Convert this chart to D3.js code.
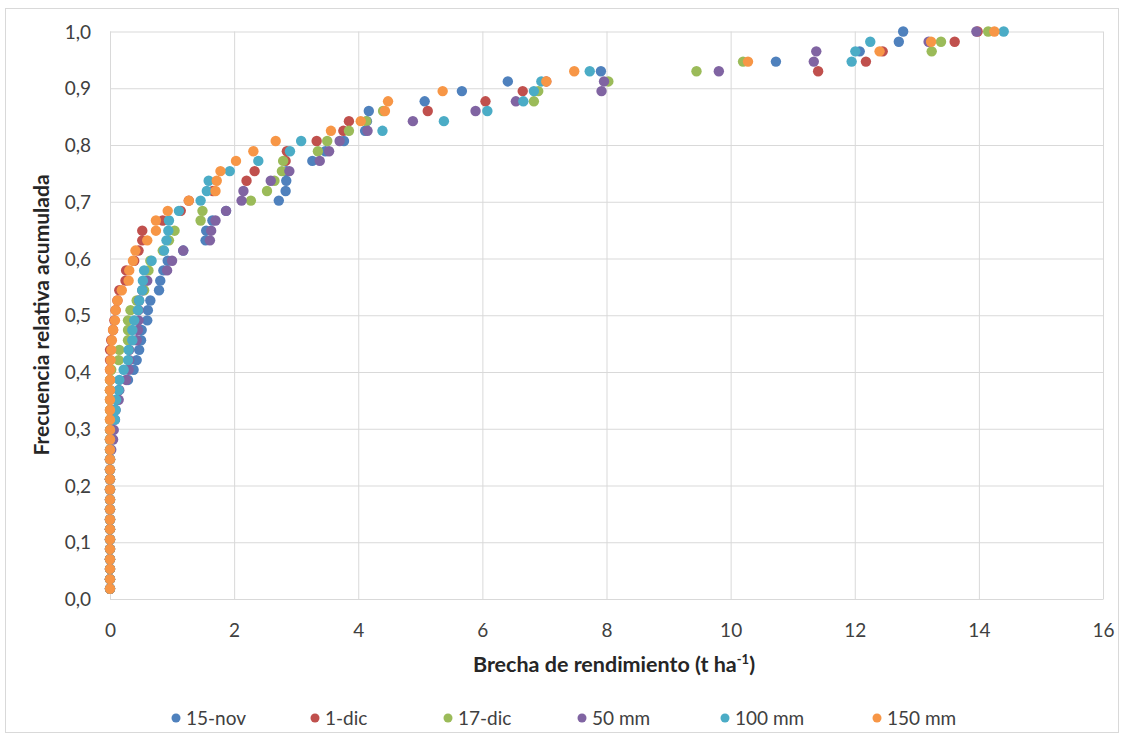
<!DOCTYPE html>
<html><head><meta charset="utf-8">
<script src="https://cdn.jsdelivr.net/npm/d3@7"></script>
<style>
html,body{margin:0;padding:0;background:#fff;}
svg{display:block;font-family:Lato,"Open Sans",sans-serif;}
</style></head>
<body>
<svg id="c" width="1125" height="738"></svg>
<script>
// cumulative relative frequency (rank / 57)
const yFreq = [0.018,0.035,0.053,0.070,0.088,0.105,0.123,0.140,0.158,0.175,0.193,0.211,0.228,0.246,0.263,0.281,0.298,0.316,0.333,0.351,0.368,0.386,0.404,0.421,0.439,0.456,0.474,0.491,0.509,0.526,0.544,0.561,0.579,0.596,0.614,0.632,0.649,0.667,0.684,0.702,0.719,0.737,0.754,0.772,0.789,0.807,0.825,0.842,0.860,0.877,0.895,0.912,0.930,0.947,0.965,0.982,1.000];

const seriesNames = ["15-nov","1-dic","17-dic","50 mm","100 mm","150 mm"];
const seriesColors = ["#4F81BD","#C0504D","#9BBB59","#8064A2","#4BACC6","#F79646"];

const gap15nov = [0,0,0,0,0,0,0,0,0,0,0,0,0,0,0,0,0.03,0.05,0.08,0.10,0.14,0.29,0.38,0.43,0.47,0.50,0.51,0.60,0.61,0.65,0.79,0.81,0.86,0.93,1.18,1.54,1.55,1.65,1.87,2.72,2.83,2.84,2.84,3.26,3.47,3.77,4.11,4.14,4.17,5.07,5.67,6.41,7.91,10.73,12.08,12.71,12.78];
const gap1dic = [0,0,0,0,0,0,0,0,0,0,0,0,0,0,0,0,0,0,0,0,0,0,0,0,0,0.02,0.05,0.07,0.09,0.12,0.15,0.25,0.26,0.39,0.46,0.52,0.52,0.85,1.14,1.27,1.66,2.20,2.33,2.83,2.85,3.33,3.76,3.85,5.12,6.05,6.65,7.03,11.41,12.18,12.45,13.61,13.98];
const gap17dic = [0,0,0,0,0,0,0,0,0,0,0,0,0,0,0,0,0,0,0,0,0,0,0.02,0.14,0.15,0.29,0.29,0.29,0.33,0.43,0.55,0.58,0.62,0.65,0.85,0.95,1.04,1.46,1.49,2.27,2.53,2.65,2.77,2.79,3.35,3.50,3.85,4.13,4.40,6.83,6.90,8.03,9.45,10.20,13.24,13.39,14.15];
const gap50mm = [0,0,0,0,0,0,0,0,0,0,0,0,0,0,0.02,0.05,0.06,0.08,0.09,0.14,0.15,0.26,0.30,0.31,0.31,0.43,0.45,0.46,0.46,0.47,0.52,0.60,0.92,1.00,1.18,1.61,1.63,1.70,1.87,2.12,2.15,2.59,2.89,3.38,3.53,3.70,4.15,4.88,5.89,6.54,7.92,7.96,9.81,11.34,11.38,13.19,13.96];
const gap100mm = [0,0,0,0,0,0,0,0,0,0,0,0,0,0,0,0,0,0.08,0.09,0.10,0.14,0.15,0.22,0.29,0.30,0.36,0.36,0.39,0.45,0.47,0.52,0.53,0.55,0.67,0.87,0.91,0.94,0.95,1.11,1.46,1.56,1.59,1.93,2.39,2.90,3.08,4.39,5.38,6.08,6.66,6.83,6.95,7.73,11.95,12.01,12.25,14.40];
const gap150mm = [0,0,0,0,0,0,0,0,0,0,0,0,0,0,0,0,0,0,0,0,0,0,0,0.01,0.02,0.03,0.05,0.08,0.09,0.12,0.19,0.30,0.31,0.37,0.41,0.60,0.74,0.74,0.93,1.27,1.70,1.72,1.78,2.03,2.31,2.67,3.56,4.04,4.43,4.48,5.36,7.03,7.48,10.28,12.40,13.23,14.25];

const seriesValues = [gap15nov,gap1dic,gap17dic,gap50mm,gap100mm,gap150mm];
const xTicks = [0,2,4,6,8,10,12,14,16];
const yTicks = [0,0.1,0.2,0.3,0.4,0.5,0.6,0.7,0.8,0.9,1.0];

const svg = d3.select("#c");
const M = {left:110, right:1103, top:31.5, bottom:599};

svg.append("rect").attr("x",5.5).attr("y",8.5).attr("width",1113).attr("height",724)
  .attr("fill","#fff").attr("stroke","#d9d9d9").attr("stroke-width",1);

const x = d3.scaleLinear().domain([0,16]).range([M.left,M.right]);
const y = d3.scaleLinear().domain([0,1]).range([M.bottom,M.top]);

// gridlines
const gx = svg.append("g").attr("transform",`translate(0,${M.bottom})`)
  .call(d3.axisBottom(x).tickValues(xTicks).tickSize(-(M.bottom-M.top)).tickFormat(""));
gx.selectAll("line").attr("stroke","#d9d9d9");
gx.select(".domain").remove();
const gy = svg.append("g").attr("transform",`translate(${M.left},0)`)
  .call(d3.axisLeft(y).tickValues(yTicks).tickSize(-(M.right-M.left)).tickFormat(""));
gy.selectAll("line").attr("stroke","#d9d9d9");
gy.select(".domain").remove();

// axes with labels
const fmt = d => d3.format(".1f")(d).replace(".",",");
const ax = svg.append("g").attr("transform",`translate(0,${M.bottom})`)
  .call(d3.axisBottom(x).tickValues(xTicks).tickSize(0).tickPadding(25).tickFormat(d3.format("d")));
ax.select(".domain").attr("stroke","#d9d9d9");
ax.selectAll("text").attr("font-size",19).attr("fill","#404040").attr("font-family","Lato");
const ay = svg.append("g").attr("transform",`translate(${M.left},0)`)
  .call(d3.axisLeft(y).tickValues(yTicks).tickSize(0).tickPadding(19).tickFormat(fmt));
ay.select(".domain").attr("stroke","#d9d9d9");
ay.selectAll("text").attr("font-size",19).attr("fill","#404040").attr("font-family","Lato").attr("dy","0.35em");

// axis titles
const xt = svg.append("text").attr("x",614).attr("y",672).attr("text-anchor","middle")
  .attr("font-size",21.5).attr("font-weight","bold").attr("fill","#262626").attr("font-family","Lato");
xt.append("tspan").text("Brecha de rendimiento (t ha");
xt.append("tspan").text("-1").attr("font-size",13).attr("dy",-8);
xt.append("tspan").text(")").attr("dy",8);

svg.append("text").attr("transform","translate(49,315) rotate(-90)").attr("text-anchor","middle")
  .attr("font-size",21).attr("font-weight","bold").attr("fill","#262626").attr("font-family","Lato")
  .text("Frecuencia relativa acumulada");

// points
seriesValues.forEach((vals,si) => {
  svg.append("g").selectAll("circle").data(vals.map((v,i)=>[v,yFreq[i]])).join("circle")
    .attr("cx",d=>x(d[0])).attr("cy",d=>y(d[1])).attr("r",5.2)
    .attr("fill",seriesColors[si]);
});

// legend
const legX = [176,315,448,582,725,877];
const lg = svg.append("g");
seriesNames.forEach((n,i)=>{
  lg.append("circle").attr("cx",legX[i]).attr("cy",718).attr("r",4.5).attr("fill",seriesColors[i]);
  lg.append("text").attr("x",legX[i]+10).attr("y",718).attr("dy","0.35em")
    .attr("font-size",19).attr("fill","#404040").attr("font-family","Lato").text(n);
});
</script>
</body></html>
